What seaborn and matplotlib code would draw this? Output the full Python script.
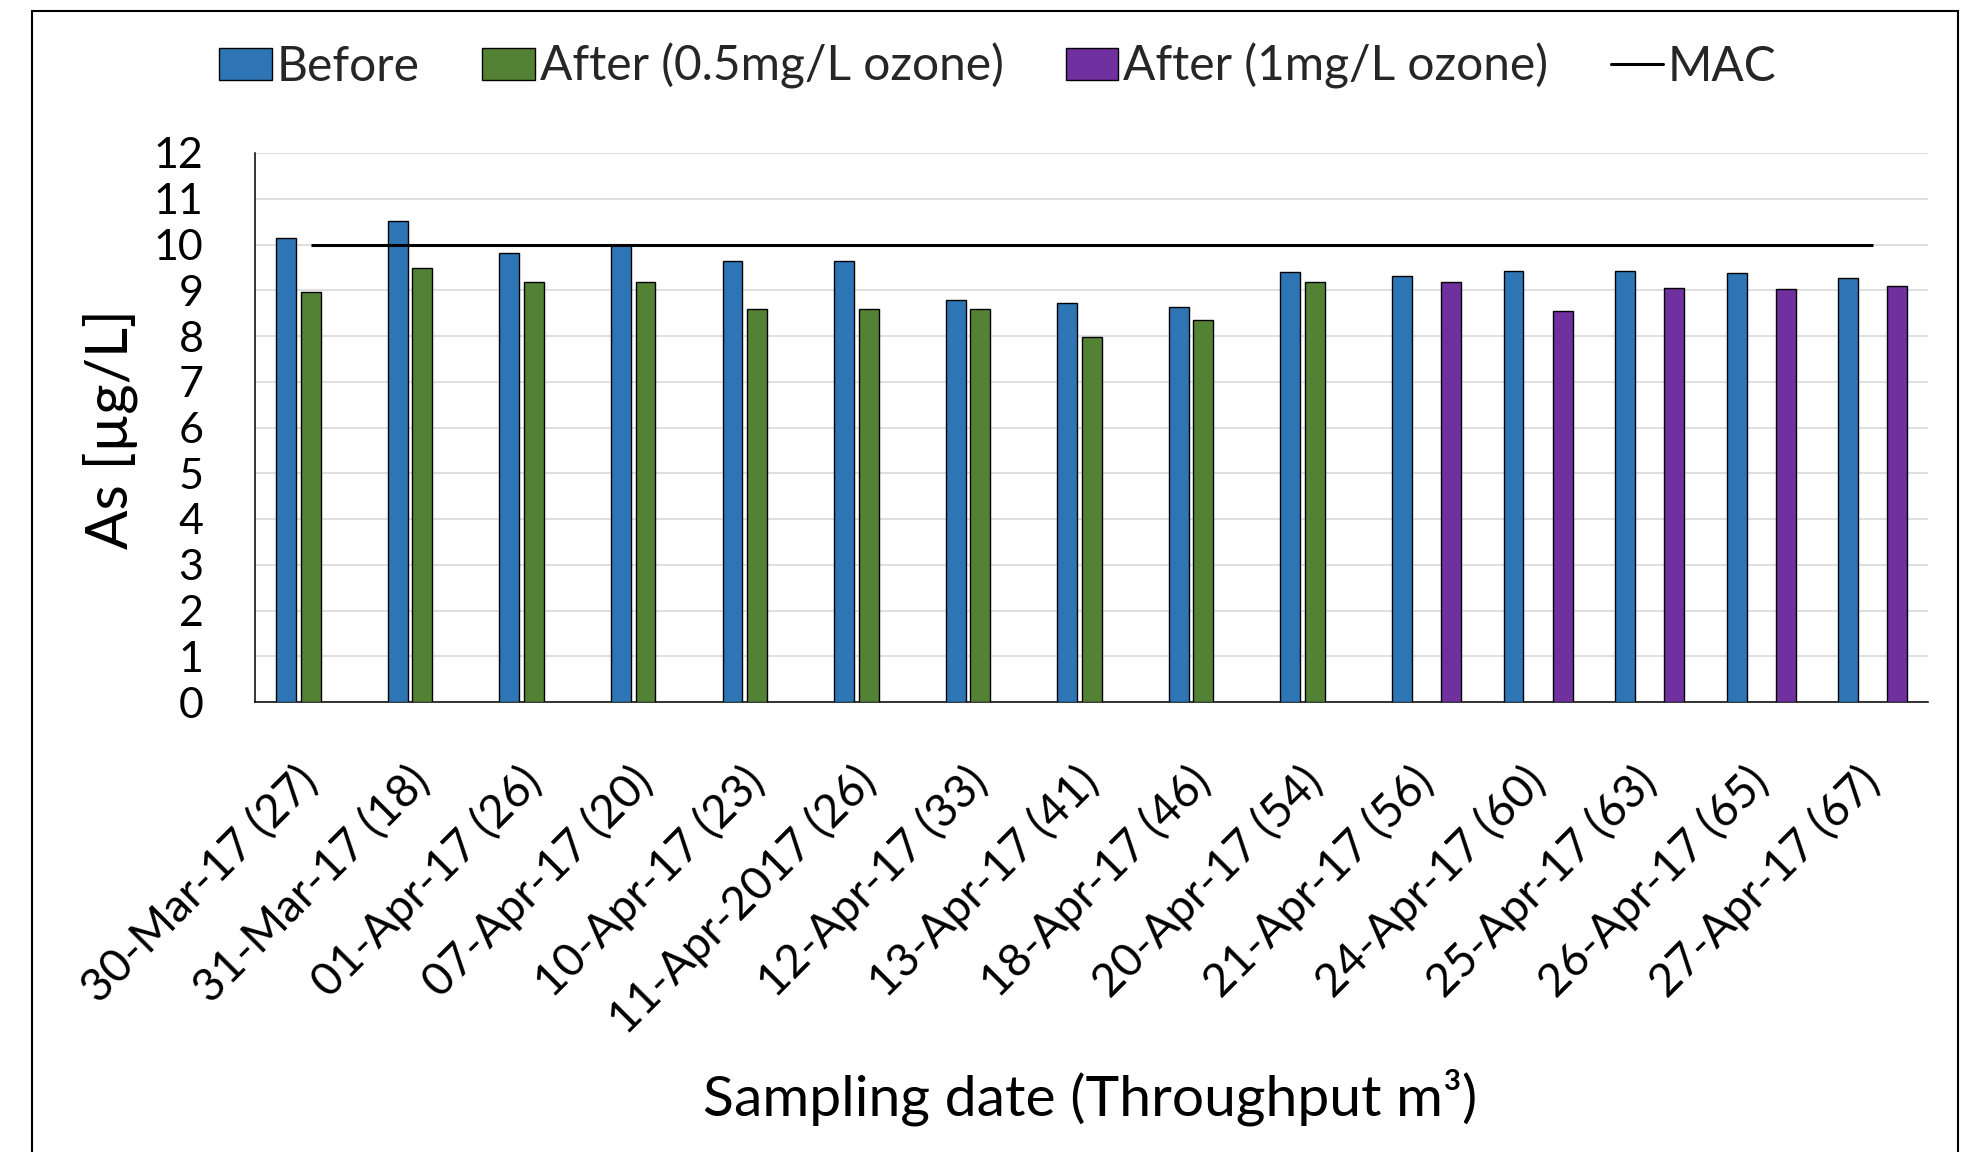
import numpy as np
import pandas as pd
import matplotlib
matplotlib.use("Agg")
import matplotlib.pyplot as plt
from matplotlib.patches import Patch, Rectangle
from matplotlib.lines import Line2D
import seaborn as sns

# ---------------- data ----------------
dates = ["30-Mar-17 (27)", "31-Mar-17 (18)", "01-Apr-17 (26)", "07-Apr-17 (20)",
         "10-Apr-17 (23)", "11-Apr-2017 (26)", "12-Apr-17 (33)", "13-Apr-17 (41)",
         "18-Apr-17 (46)", "20-Apr-17 (54)", "21-Apr-17 (56)", "24-Apr-17 (60)",
         "25-Apr-17 (63)", "26-Apr-17 (65)", "27-Apr-17 (67)"]
before = [10.15, 10.51, 9.81, 9.98, 9.64, 9.64, 8.78, 8.73, 8.63, 9.39,
          9.31, 9.41, 9.43, 9.38, 9.27]
after_05 = [8.97, 9.48, 9.19, 9.18, 8.60, 8.60, 8.60, 7.98, 8.34, 9.19,
            np.nan, np.nan, np.nan, np.nan, np.nan]
after_1 = [np.nan] * 10 + [9.19, 8.55, 9.04, 9.03, 9.09]
mac = [10] * 15
series_names = ["Before", "After (0.5mg/L ozone)", "After (1mg/L ozone)"]
mac_name = "MAC"
colors = ["#2E75B6", "#548235", "#7030A0"]
y_ticks = list(range(0, 13))
y_label = "As [µg/L]"
x_label = "Sampling date (Throughput m³)"

# ---------------- table ----------------
rows = []
for name, vals in zip(series_names, [before, after_05, after_1]):
    for d, v in zip(dates, vals):
        rows.append({"date": d, "series": name, "value": v})
df = pd.DataFrame(rows)

# ---------------- style ----------------
sns.set_theme(style="white")
plt.rcParams["font.family"] = ["Lato", "DejaVu Sans"]

W, H = 1982, 1152
fig = plt.figure(figsize=(W / 100, H / 100), dpi=100)
ax = fig.add_axes([255 / W, 1 - 702 / H, (1928.5 - 255) / W, (702 - 153) / H])

sns.barplot(data=df, x="date", y="value", hue="series", order=dates,
            hue_order=series_names, palette=colors, width=0.66, gap=0.19,
            dodge=True, edgecolor="black", linewidth=1.0, saturation=1,
            errorbar=None, legend=False, ax=ax, zorder=3)

ax.plot(np.arange(len(dates)), mac, color="black", lw=2.2, zorder=4,
        solid_capstyle="butt")

ax.set_xlim(-0.5, len(dates) - 0.5)
ax.set_ylim(0, 12)
ax.set_yticks(y_ticks)
ax.set_yticklabels([str(t) for t in y_ticks])
ax.yaxis.grid(True, color="#D9D9D9", lw=1.2, zorder=0)
ax.set_axisbelow(True)
for s in ["top", "right"]:
    ax.spines[s].set_visible(False)
for s in ["left", "bottom"]:
    ax.spines[s].set_color("black")
    ax.spines[s].set_linewidth(1.1)
ax.tick_params(axis="y", length=0, pad=37, labelsize=31, colors="black")
ax.tick_params(axis="x", length=0, pad=52, labelsize=33, colors="black")
ax.set_xticks(np.arange(len(dates)))
ax.set_xticklabels(dates, rotation=45, ha="right", va="center",
                   rotation_mode="anchor")
ax.set_xlabel("")
ax.set_ylabel("")

fig.text(110 / W, 1 - 429 / H, y_label, rotation=90, ha="center", va="center",
         fontsize=42, color="black")
fig.text(1090 / W, 1 - 1097 / H, x_label, ha="center", va="center",
         fontsize=41, color="black")

handles = [Patch(facecolor=c, edgecolor="black", lw=1.0) for c in colors]
handles.append(Line2D([0], [0], color="black", lw=2.2))
fig.legend(handles, series_names + [mac_name], loc="center",
           bbox_to_anchor=(998 / W, 1 - 66 / H), ncol=4, frameon=False,
           fontsize=34.5, handlelength=1.1, handleheight=0.65,
           handletextpad=0.1, columnspacing=1.3, borderpad=0, borderaxespad=0)

fig.patches.append(Rectangle((32 / W, -0.02), (1958 - 32) / W, 1.02 - 10.6 / H,
                             transform=fig.transFigure, fill=False,
                             edgecolor="black", lw=1.5, zorder=10))

fig.savefig("out.png", dpi=100, facecolor="white")
